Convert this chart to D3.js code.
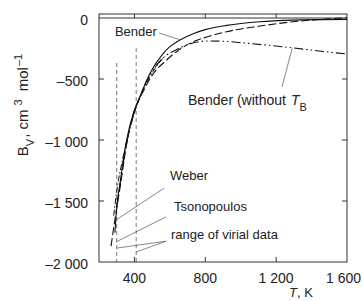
<!DOCTYPE html>
<html>
<head>
<meta charset="utf-8">
<script src="https://cdn.jsdelivr.net/npm/d3@7"></script>
<style>
  body { margin: 0; background: #fff; }
  svg { display: block; font-family: "Liberation Sans", Arial, sans-serif; }
  .tick-label { font-size: 14px; fill: #222; }
  .note { font-size: 13px; fill: #222; }
</style>
</head>
<body>
<svg id="graph" width="363" height="301"></svg>
<script>
(function() {
// values (T in K, B in cm3/mol)
const benderT = [290, 300, 319, 337, 356, 394, 431, 488, 563, 600, 657, 732, 800, 921, 1109, 1295, 1450, 1600];
const benderB = [-1760, -1550, -1355, -1165, -1000, -780, -645, -453, -289, -235, -180, -128, -95, -60, -30, -17, -13, -11];

const tsonoT = [268, 290, 320, 360, 400, 450, 500, 582, 650, 732, 821, 921, 1109, 1297, 1450, 1600];
const tsonoB = [-1870, -1650, -1380, -1000, -760, -600, -470, -344, -262, -194, -150, -112, -66, -30, -12, 3];

const weberT = [283, 300, 330, 370, 420, 480, 560];
const weberB = [-1620, -1420, -1180, -930, -690, -500, -330];

const noTbT = [300, 360, 430, 490, 560, 650, 730, 820, 920, 1015, 1147, 1297, 1429, 1600];
const noTbB = [-1550, -1000, -650, -460, -330, -250, -205, -188, -192, -204, -222, -245, -268, -295];

const virialRange = [300, 410];
const virialTop = [-369, -246];

const xTicks = [400, 800, 1200, 1600];
const xTickLabels = ['400', '800', '1 200', '1 600'];
const yTicks = [0, -500, -1000, -1500, -2000];
const yTickLabels = ['0', '\u2013500', '\u20131 000', '\u20131 500', '\u20132 000'];

const svg = d3.select('#graph');
const left = 99, right = 347, top = 14, bottom = 262;

const x = d3.scaleLinear().domain([200, 1600]).range([left, right]);
const y = d3.scaleLinear().domain([-2000, 33]).range([bottom, top]);

function zipPts(ts, bs) {
  return ts.map((t, i) => ({ t: t, b: bs[i] }));
}

const line = d3.line()
  .x(d => x(d.t))
  .y(d => y(d.b))
  .curve(d3.curveMonotoneX);

// frame
svg.append('rect')
  .attr('x', left).attr('y', top)
  .attr('width', right - left).attr('height', bottom - top)
  .attr('fill', 'none').attr('stroke', '#333').attr('stroke-width', 1);

// zero line
svg.append('line')
  .attr('x1', left).attr('x2', right)
  .attr('y1', y(0)).attr('y2', y(0))
  .attr('stroke', '#333').attr('stroke-width', 1);

// inward ticks
const g = svg.append('g').attr('stroke', '#333').attr('stroke-width', 1);
xTicks.slice(0, 3).forEach(t => {
  g.append('line').attr('x1', x(t)).attr('x2', x(t)).attr('y1', bottom).attr('y2', bottom - 5);
  g.append('line').attr('x1', x(t)).attr('x2', x(t)).attr('y1', top).attr('y2', y(0));
});
yTicks.slice(1, 4).forEach(b => {
  g.append('line').attr('x1', left).attr('x2', left + 5).attr('y1', y(b)).attr('y2', y(b));
  g.append('line').attr('x1', right).attr('x2', right - 5).attr('y1', y(b)).attr('y2', y(b));
});

// tick labels
xTicks.forEach((t, i) => {
  const last = i === xTicks.length - 1;
  svg.append('text').attr('class', 'tick-label')
    .attr('x', last ? 361 : x(t)).attr('y', bottom + 21)
    .attr('text-anchor', last ? 'end' : 'middle')
    .text(xTickLabels[i]);
});
yTicks.forEach((b, i) => {
  svg.append('text').attr('class', 'tick-label')
    .attr('x', left - 11).attr('y', y(b) + 6.5)
    .attr('text-anchor', 'end')
    .text(yTickLabels[i]);
});

// axis titles
const yl = svg.append('text').attr('class', 'tick-label')
  .style('font-size', '15px')
  .attr('transform', 'translate(28, 105) rotate(-90)')
  .attr('text-anchor', 'middle');
yl.append('tspan').text('B');
yl.append('tspan').attr('baseline-shift', 'sub').attr('font-size', '11px').text('V');
yl.append('tspan').attr('dx', 1).text(', cm');
yl.append('tspan').attr('baseline-shift', 'super').attr('font-size', '11px').attr('dx', 4).text('3');
yl.append('tspan').attr('dx', 4).text(' mol');
yl.append('tspan').attr('baseline-shift', 'super').attr('font-size', '11px').attr('dx', 1).text('\u20131');

const xl = svg.append('text').attr('class', 'note')
  .attr('x', 289).attr('y', 297);
xl.append('tspan').attr('font-style', 'italic').text('T');
xl.append('tspan').text(', K');

// virial data range
virialRange.forEach((t, i) => {
  svg.append('line')
    .attr('x1', x(t)).attr('x2', x(t))
    .attr('y1', y(virialTop[i])).attr('y2', bottom)
    .attr('stroke', '#555').attr('stroke-width', 0.8)
    .attr('stroke-dasharray', '4,3');
});

// curves
function drawCurve(ts, bs, dash, width) {
  svg.append('path')
    .attr('d', line(zipPts(ts, bs)))
    .attr('fill', 'none')
    .attr('stroke', '#111')
    .attr('stroke-width', width)
    .attr('stroke-dasharray', dash);
}
drawCurve(noTbT, noTbB, '9,3,1.5,3,1.5,3', 1.1);
drawCurve(tsonoT, tsonoB, '8,3', 1.1);
drawCurve(weberT, weberB, '6,2,1.5,2', 1.0);
drawCurve(benderT, benderB, null, 1.1);

// annotations (anchor points in data units)
const notes = [
  { text: 'Bender', at: [290, -148], leads: [[[539, -123], [657, -178]]] },
  { text: 'Bender (without', sub: 'B', size: 14, at: [702, -713], leads: [[[1233, -566], [1290, -250]]] },
  { text: 'Weber', at: [601, -1330], leads: [[[567, -1395], [296, -1656]]] },
  { text: 'Tsonopoulos', at: [623, -1580], leads: [[[578, -1630], [296, -1836]]] },
  { text: 'range of virial data', at: [606, -1815], leads: [[[578, -1830], [300, -1886]], [[578, -1830], [410, -1918]]] }
];

notes.forEach(n => {
  const t = svg.append('text').attr('class', 'note')
    .attr('x', x(n.at[0])).attr('y', y(n.at[1]));
  if (n.size) t.style('font-size', n.size + 'px');
  t.append('tspan').text(n.text);
  if (n.sub) {
    t.append('tspan').attr('font-style', 'italic').attr('dx', 5).text('T');
    t.append('tspan').attr('baseline-shift', 'sub').attr('font-size', '11px').text(n.sub);
  }
  n.leads.forEach(l => {
    svg.append('line')
      .attr('x1', x(l[0][0])).attr('y1', y(l[0][1]))
      .attr('x2', x(l[1][0])).attr('y2', y(l[1][1]))
      .attr('stroke', '#555').attr('stroke-width', 0.7);
  });
});
})();
</script>
</body>
</html>
